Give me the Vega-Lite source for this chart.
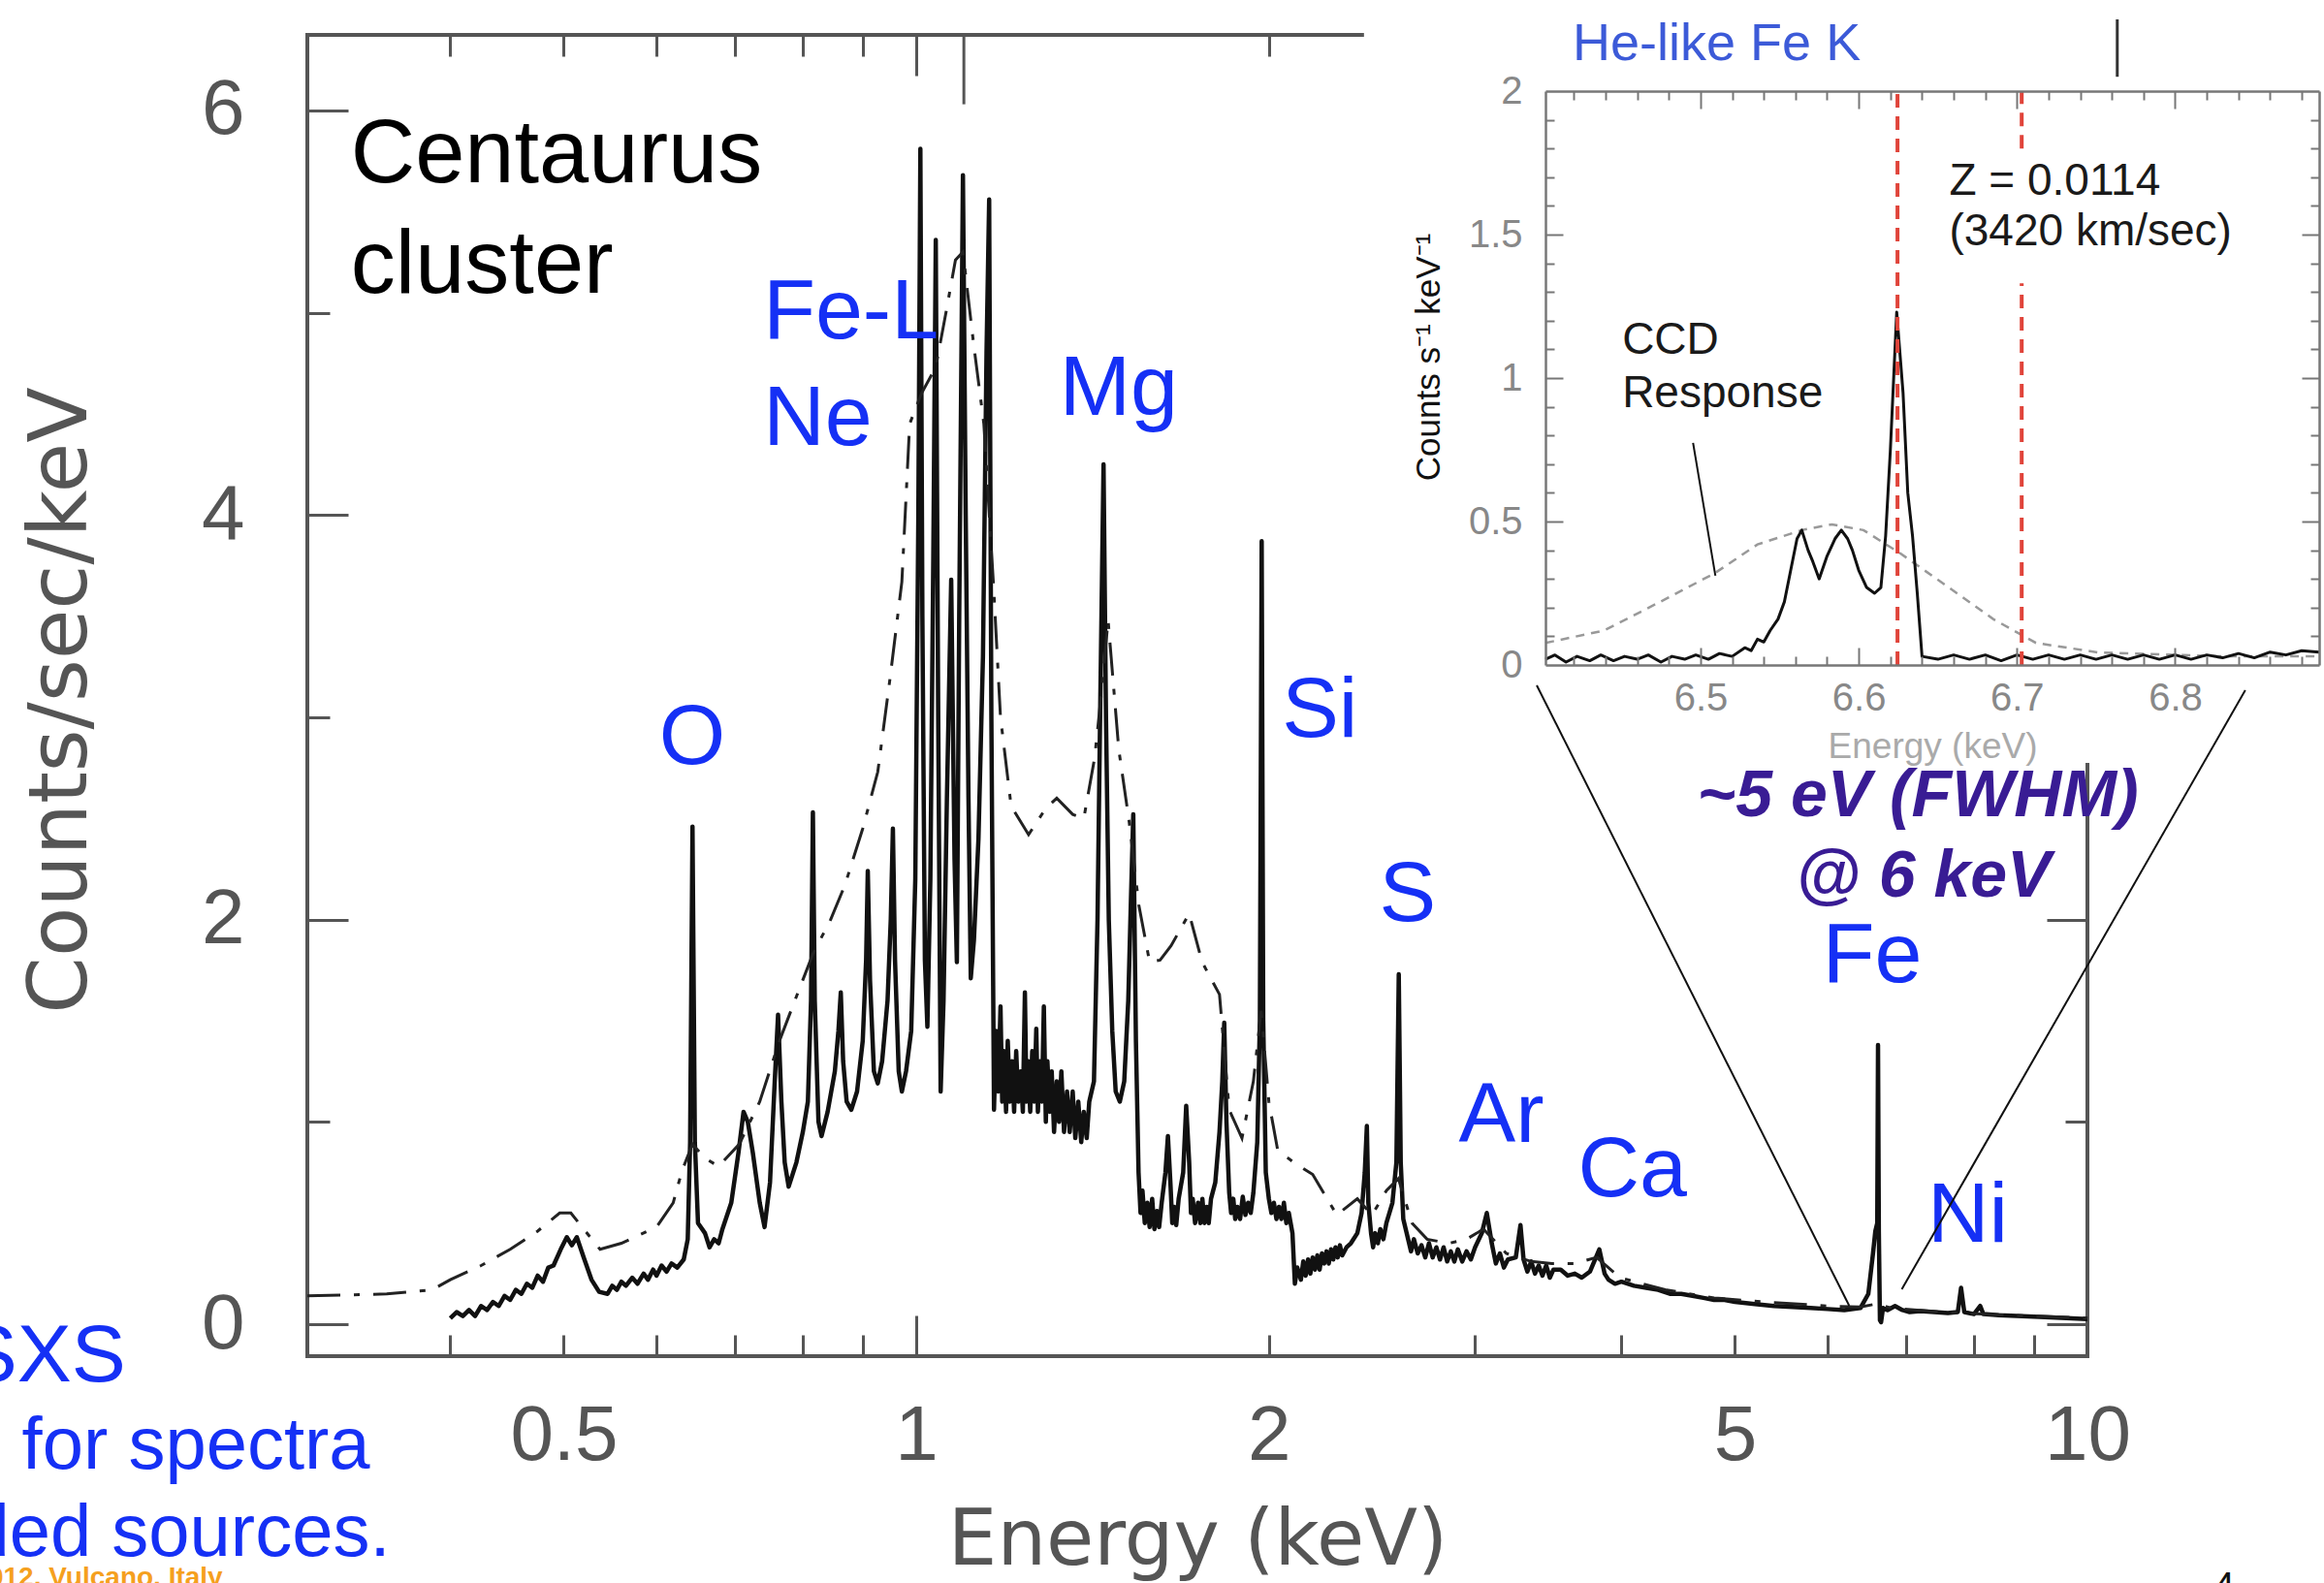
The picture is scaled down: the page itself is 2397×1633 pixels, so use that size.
{
  "$schema": "https://vega.github.io/schema/vega-lite/v6.json",
  "width": 1836,
  "height": 1363,
  "autosize": {"type": "none"},
  "padding": {"left": 317, "top": 36, "right": 244, "bottom": 234},
  "background": "white",
  "config": {
    "view": {"stroke": "#555", "strokeWidth": 4},
    "axis": {"grid": false, "labelFont": "Liberation Sans", "titleFont": "Liberation Sans", "titleFontWeight": "normal", "labelFlush": false, "labelOverlap": false}
  },
  "datasets": {
    "main_solid": [
      {"E":0.400,"C":0.03},{"E":0.405,"C":0.06},{"E":0.410,"C":0.04},{"E":0.415,"C":0.07},{"E":0.420,"C":0.04},{"E":0.425,"C":0.09},{"E":0.430,"C":0.07},{"E":0.435,"C":0.11},{"E":0.440,"C":0.09},{"E":0.445,"C":0.14},{"E":0.450,"C":0.12},{"E":0.455,"C":0.17},{"E":0.460,"C":0.15},{"E":0.465,"C":0.20},{"E":0.470,"C":0.18},{"E":0.475,"C":0.24},{"E":0.480,"C":0.21},{"E":0.485,"C":0.28},{"E":0.490,"C":0.29},{"E":0.497,"C":0.37},{"E":0.503,"C":0.43},{"E":0.508,"C":0.39},{"E":0.513,"C":0.43},{"E":0.520,"C":0.33},{"E":0.528,"C":0.22},{"E":0.536,"C":0.16},{"E":0.545,"C":0.15},{"E":0.550,"C":0.19},{"E":0.555,"C":0.17},{"E":0.560,"C":0.21},{"E":0.565,"C":0.19},{"E":0.572,"C":0.23},{"E":0.578,"C":0.20},{"E":0.585,"C":0.25},{"E":0.590,"C":0.22},{"E":0.596,"C":0.27},{"E":0.600,"C":0.24},{"E":0.606,"C":0.29},{"E":0.612,"C":0.26},{"E":0.618,"C":0.30},{"E":0.625,"C":0.28},{"E":0.633,"C":0.32},{"E":0.638,"C":0.42},{"E":0.641,"C":0.9},{"E":0.644,"C":2.46},{"E":0.647,"C":0.9},{"E":0.651,"C":0.50},{"E":0.660,"C":0.45},{"E":0.666,"C":0.38},{"E":0.672,"C":0.42},{"E":0.678,"C":0.40},{"E":0.683,"C":0.47},{"E":0.695,"C":0.60},{"E":0.705,"C":0.85},{"E":0.712,"C":1.05},{"E":0.718,"C":1.00},{"E":0.725,"C":0.85},{"E":0.735,"C":0.60},{"E":0.742,"C":0.48},{"E":0.750,"C":0.70},{"E":0.757,"C":1.20},{"E":0.762,"C":1.53},{"E":0.767,"C":1.10},{"E":0.772,"C":0.80},{"E":0.778,"C":0.68},{"E":0.790,"C":0.80},{"E":0.800,"C":0.95},{"E":0.808,"C":1.10},{"E":0.813,"C":1.60},{"E":0.816,"C":2.53},{"E":0.819,"C":1.60},{"E":0.825,"C":1.00},{"E":0.830,"C":0.93},{"E":0.840,"C":1.05},{"E":0.852,"C":1.25},{"E":0.858,"C":1.45},{"E":0.862,"C":1.64},{"E":0.866,"C":1.30},{"E":0.872,"C":1.10},{"E":0.880,"C":1.06},{"E":0.890,"C":1.15},{"E":0.900,"C":1.40},{"E":0.906,"C":1.80},{"E":0.909,"C":2.24},{"E":0.913,"C":1.70},{"E":0.920,"C":1.25},{"E":0.927,"C":1.19},{"E":0.935,"C":1.30},{"E":0.945,"C":1.60},{"E":0.951,"C":2.0},{"E":0.955,"C":2.45},{"E":0.959,"C":1.80},{"E":0.966,"C":1.25},{"E":0.972,"C":1.15},{"E":0.980,"C":1.25},{"E":0.990,"C":1.45},{"E":0.998,"C":2.2},{"E":1.004,"C":4.0},{"E":1.008,"C":5.81},{"E":1.012,"C":3.5},{"E":1.017,"C":1.80},{"E":1.022,"C":1.47},{"E":1.028,"C":2.2},{"E":1.034,"C":3.8},{"E":1.039,"C":5.36},{"E":1.044,"C":3.0},{"E":1.049,"C":1.15},{"E":1.055,"C":1.6},{"E":1.062,"C":2.6},{"E":1.071,"C":3.68},{"E":1.078,"C":2.3},{"E":1.083,"C":1.79},{"E":1.088,"C":3.5},{"E":1.096,"C":5.68},{"E":1.102,"C":4.0},{"E":1.108,"C":2.6},{"E":1.113,"C":1.71},{"E":1.120,"C":1.9},{"E":1.130,"C":2.4},{"E":1.140,"C":3.3},{"E":1.148,"C":4.8},{"E":1.154,"C":5.56},{"E":1.159,"C":3.0},{"E":1.165,"C":1.06},{"E":1.170,"C":1.45},{"E":1.175,"C":1.15},{"E":1.180,"C":1.57},{"E":1.184,"C":1.10},{"E":1.188,"C":1.35},{"E":1.193,"C":1.05},{"E":1.197,"C":1.40},{"E":1.202,"C":1.10},{"E":1.207,"C":1.30},{"E":1.212,"C":1.05},{"E":1.217,"C":1.35},{"E":1.222,"C":1.10},{"E":1.228,"C":1.25},{"E":1.233,"C":1.05},{"E":1.238,"C":1.64},{"E":1.242,"C":1.10},{"E":1.246,"C":1.30},{"E":1.251,"C":1.05},{"E":1.256,"C":1.35},{"E":1.261,"C":1.10},{"E":1.266,"C":1.46},{"E":1.270,"C":1.05},{"E":1.275,"C":1.30},{"E":1.280,"C":1.10},{"E":1.285,"C":1.57},{"E":1.290,"C":1.00},{"E":1.294,"C":1.30},{"E":1.300,"C":1.05},{"E":1.305,"C":1.25},{"E":1.311,"C":0.95},{"E":1.318,"C":1.20},{"E":1.324,"C":1.00},{"E":1.330,"C":1.25},{"E":1.337,"C":0.95},{"E":1.345,"C":1.15},{"E":1.352,"C":0.95},{"E":1.360,"C":1.15},{"E":1.367,"C":0.92},{"E":1.375,"C":1.10},{"E":1.383,"C":0.90},{"E":1.390,"C":1.05},{"E":1.398,"C":0.92},{"E":1.405,"C":1.10},{"E":1.418,"C":1.20},{"E":1.428,"C":2.0},{"E":1.436,"C":3.1},{"E":1.445,"C":4.25},{"E":1.452,"C":3.0},{"E":1.460,"C":2.0},{"E":1.470,"C":1.45},{"E":1.480,"C":1.15},{"E":1.492,"C":1.10},{"E":1.505,"C":1.20},{"E":1.517,"C":1.60},{"E":1.525,"C":2.1},{"E":1.532,"C":2.52},{"E":1.540,"C":1.40},{"E":1.548,"C":0.75},{"E":1.554,"C":0.55},{"E":1.560,"C":0.66},{"E":1.567,"C":0.50},{"E":1.575,"C":0.60},{"E":1.582,"C":0.48},{"E":1.590,"C":0.62},{"E":1.597,"C":0.47},{"E":1.605,"C":0.56},{"E":1.612,"C":0.48},{"E":1.620,"C":0.60},{"E":1.632,"C":0.75},{"E":1.640,"C":0.93},{"E":1.648,"C":0.70},{"E":1.654,"C":0.50},{"E":1.660,"C":0.58},{"E":1.667,"C":0.49},{"E":1.675,"C":0.62},{"E":1.690,"C":0.75},{"E":1.700,"C":1.08},{"E":1.710,"C":0.80},{"E":1.716,"C":0.55},{"E":1.722,"C":0.62},{"E":1.730,"C":0.50},{"E":1.740,"C":0.60},{"E":1.748,"C":0.50},{"E":1.755,"C":0.62},{"E":1.762,"C":0.50},{"E":1.770,"C":0.58},{"E":1.777,"C":0.50},{"E":1.785,"C":0.62},{"E":1.800,"C":0.70},{"E":1.815,"C":0.95},{"E":1.825,"C":1.20},{"E":1.832,"C":1.49},{"E":1.840,"C":1.00},{"E":1.850,"C":0.65},{"E":1.857,"C":0.55},{"E":1.865,"C":0.62},{"E":1.872,"C":0.52},{"E":1.880,"C":0.58},{"E":1.890,"C":0.52},{"E":1.900,"C":0.63},{"E":1.910,"C":0.54},{"E":1.920,"C":0.60},{"E":1.930,"C":0.55},{"E":1.940,"C":0.65},{"E":1.955,"C":0.90},{"E":1.965,"C":1.5},{"E":1.972,"C":3.87},{"E":1.978,"C":1.5},{"E":1.988,"C":0.75},{"E":2.000,"C":0.62},{"E":2.010,"C":0.55},{"E":2.020,"C":0.60},{"E":2.030,"C":0.52},{"E":2.040,"C":0.58},{"E":2.050,"C":0.52},{"E":2.060,"C":0.60},{"E":2.070,"C":0.50},{"E":2.080,"C":0.55},{"E":2.095,"C":0.45},{"E":2.105,"C":0.20},{"E":2.115,"C":0.28},{"E":2.130,"C":0.22},{"E":2.140,"C":0.31},{"E":2.150,"C":0.24},{"E":2.160,"C":0.32},{"E":2.170,"C":0.25},{"E":2.180,"C":0.33},{"E":2.190,"C":0.27},{"E":2.200,"C":0.34},{"E":2.210,"C":0.27},{"E":2.220,"C":0.35},{"E":2.230,"C":0.30},{"E":2.240,"C":0.36},{"E":2.250,"C":0.30},{"E":2.260,"C":0.37},{"E":2.270,"C":0.32},{"E":2.280,"C":0.38},{"E":2.290,"C":0.33},{"E":2.300,"C":0.39},{"E":2.310,"C":0.34},{"E":2.330,"C":0.38},{"E":2.350,"C":0.40},{"E":2.380,"C":0.45},{"E":2.400,"C":0.55},{"E":2.415,"C":0.75},{"E":2.425,"C":0.98},{"E":2.432,"C":0.60},{"E":2.445,"C":0.45},{"E":2.455,"C":0.38},{"E":2.465,"C":0.45},{"E":2.478,"C":0.40},{"E":2.490,"C":0.47},{"E":2.505,"C":0.42},{"E":2.520,"C":0.50},{"E":2.550,"C":0.60},{"E":2.570,"C":0.80},{"E":2.582,"C":1.73},{"E":2.592,"C":0.80},{"E":2.605,"C":0.52},{"E":2.630,"C":0.42},{"E":2.645,"C":0.36},{"E":2.660,"C":0.42},{"E":2.680,"C":0.35},{"E":2.700,"C":0.39},{"E":2.720,"C":0.33},{"E":2.740,"C":0.40},{"E":2.760,"C":0.33},{"E":2.780,"C":0.38},{"E":2.800,"C":0.32},{"E":2.820,"C":0.38},{"E":2.840,"C":0.31},{"E":2.860,"C":0.36},{"E":2.880,"C":0.31},{"E":2.900,"C":0.37},{"E":2.925,"C":0.31},{"E":2.950,"C":0.36},{"E":2.975,"C":0.32},{"E":3.000,"C":0.38},{"E":3.040,"C":0.45},{"E":3.070,"C":0.55},{"E":3.100,"C":0.40},{"E":3.125,"C":0.30},{"E":3.150,"C":0.35},{"E":3.175,"C":0.28},{"E":3.200,"C":0.32},{"E":3.250,"C":0.33},{"E":3.280,"C":0.49},{"E":3.300,"C":0.32},{"E":3.325,"C":0.26},{"E":3.350,"C":0.31},{"E":3.375,"C":0.25},{"E":3.400,"C":0.29},{"E":3.425,"C":0.24},{"E":3.450,"C":0.29},{"E":3.475,"C":0.23},{"E":3.500,"C":0.27},{"E":3.550,"C":0.27},{"E":3.600,"C":0.24},{"E":3.650,"C":0.25},{"E":3.700,"C":0.23},{"E":3.760,"C":0.26},{"E":3.830,"C":0.37},{"E":3.870,"C":0.25},{"E":3.900,"C":0.22},{"E":3.950,"C":0.20},{"E":4.000,"C":0.21},{"E":4.100,"C":0.19},{"E":4.200,"C":0.18},{"E":4.300,"C":0.17},{"E":4.400,"C":0.15},{"E":4.500,"C":0.15},{"E":4.600,"C":0.14},{"E":4.700,"C":0.13},{"E":4.800,"C":0.12},{"E":4.900,"C":0.12},{"E":5.000,"C":0.11},{"E":5.200,"C":0.10},{"E":5.400,"C":0.09},{"E":5.600,"C":0.085},{"E":5.800,"C":0.08},{"E":6.000,"C":0.075},{"E":6.200,"C":0.07},{"E":6.400,"C":0.08},{"E":6.500,"C":0.15},{"E":6.560,"C":0.35},{"E":6.590,"C":0.46},{"E":6.615,"C":0.50},{"E":6.625,"C":1.38},{"E":6.636,"C":0.45},{"E":6.650,"C":0.02},{"E":6.665,"C":0.01},{"E":6.690,"C":0.08},{"E":6.750,"C":0.07},{"E":6.850,"C":0.09},{"E":6.950,"C":0.07},{"E":7.050,"C":0.06},{"E":7.200,"C":0.065},{"E":7.400,"C":0.06},{"E":7.600,"C":0.055},{"E":7.750,"C":0.06},{"E":7.800,"C":0.18},{"E":7.850,"C":0.06},{"E":8.000,"C":0.05},{"E":8.100,"C":0.09},{"E":8.150,"C":0.05},{"E":8.400,"C":0.045},{"E":8.800,"C":0.04},{"E":9.200,"C":0.035},{"E":9.600,"C":0.03},{"E":10.0,"C":0.025}
    ],
    "main_ccd": [
      {"E":0.302,"C":0.14},{"E":0.330,"C":0.145},{"E":0.353,"C":0.15},{"E":0.386,"C":0.17},{"E":0.400,"C":0.22},{"E":0.425,"C":0.29},{"E":0.450,"C":0.37},{"E":0.475,"C":0.46},{"E":0.496,"C":0.55},{"E":0.507,"C":0.55},{"E":0.520,"C":0.47},{"E":0.537,"C":0.37},{"E":0.560,"C":0.40},{"E":0.600,"C":0.48},{"E":0.620,"C":0.60},{"E":0.631,"C":0.76},{"E":0.644,"C":0.89},{"E":0.660,"C":0.82},{"E":0.678,"C":0.78},{"E":0.706,"C":0.89},{"E":0.735,"C":1.10},{"E":0.764,"C":1.40},{"E":0.790,"C":1.62},{"E":0.816,"C":1.83},{"E":0.845,"C":2.0},{"E":0.869,"C":2.17},{"E":0.900,"C":2.45},{"E":0.927,"C":2.73},{"E":0.950,"C":3.2},{"E":0.972,"C":3.67},{"E":0.987,"C":4.45},{"E":1.010,"C":4.6},{"E":1.039,"C":4.73},{"E":1.060,"C":5.0},{"E":1.080,"C":5.26},{"E":1.096,"C":5.30},{"E":1.119,"C":4.85},{"E":1.142,"C":4.45},{"E":1.164,"C":3.65},{"E":1.180,"C":3.00},{"E":1.205,"C":2.56},{"E":1.247,"C":2.42},{"E":1.290,"C":2.55},{"E":1.318,"C":2.60},{"E":1.360,"C":2.52},{"E":1.390,"C":2.50},{"E":1.420,"C":2.80},{"E":1.439,"C":3.12},{"E":1.458,"C":3.48},{"E":1.489,"C":2.84},{"E":1.520,"C":2.48},{"E":1.549,"C":2.07},{"E":1.582,"C":1.79},{"E":1.615,"C":1.80},{"E":1.650,"C":1.87},{"E":1.710,"C":2.03},{"E":1.754,"C":1.79},{"E":1.815,"C":1.63},{"E":1.850,"C":1.06},{"E":1.897,"C":0.92},{"E":1.940,"C":1.20},{"E":1.970,"C":1.55},{"E":2.000,"C":1.10},{"E":2.035,"C":0.86},{"E":2.100,"C":0.80},{"E":2.180,"C":0.74},{"E":2.286,"C":0.54},{"E":2.380,"C":0.62},{"E":2.450,"C":0.54},{"E":2.520,"C":0.66},{"E":2.580,"C":0.72},{"E":2.650,"C":0.50},{"E":2.730,"C":0.42},{"E":2.850,"C":0.40},{"E":2.950,"C":0.42},{"E":3.050,"C":0.47},{"E":3.190,"C":0.35},{"E":3.350,"C":0.31},{"E":3.490,"C":0.30},{"E":3.650,"C":0.30},{"E":3.810,"C":0.33},{"E":3.990,"C":0.23},{"E":4.360,"C":0.17},{"E":4.800,"C":0.13},{"E":5.300,"C":0.11},{"E":6.000,"C":0.09},{"E":6.400,"C":0.085},{"E":6.600,"C":0.10},{"E":6.800,"C":0.08},{"E":7.500,"C":0.06},{"E":8.500,"C":0.045},{"E":10.0,"C":0.03}
    ],
    "main_art": [{"E":1.098,"C":6.373,"C2":6.03}],
    "lab_black": [{"E":0.3289,"C":5.645,"t":"Centaurus"},{"E":0.3289,"C":5.098,"t":"cluster"}],
    "lab_blue": [
      {"E":0.740,"C":4.873,"t":"Fe-L"},{"E":0.740,"C":4.346,"t":"Ne"},{"E":1.325,"C":4.494,"t":"Mg"},{"E":0.603,"C":2.770,"t":"O"},{"E":2.052,"C":2.904,"t":"Si"},{"E":2.485,"C":1.993,"t":"S"},{"E":2.905,"C":0.901,"t":"Ar"},{"E":3.672,"C":0.632,"t":"Ca"},{"E":5.94,"C":1.691,"t":"Fe"},{"E":7.30,"C":0.407,"t":"Ni"}
    ],
    "lab_fwhm": [{"E":7.165,"C":2.511,"t":"~5 eV (FWHM)"},{"E":7.246,"C":2.113,"t":"@ 6 keV"}],
    "slide_big": [{"E":0.2114,"C":-0.283,"t":"SXS"}],
    "slide_blue": [{"E":0.3416,"C":-0.714,"t":"ideal for spectra"},{"E":0.3555,"C":-1.145,"t":"extended sources."}],
    "slide_orange": [{"E":0.2557,"C":-1.294,"t":"2012, Vulcano, Italy"}],
    "slide_page": [{"E":13.08,"C":-1.36,"t":"4"}],
    "inset_box": [{"E":6.2873,"E2":6.95,"C":-0.341,"C2":2.4}],
    "inset_ccd": [
      {"E":6.402,"C":0.077},{"E":6.439,"C":0.12},{"E":6.478,"C":0.23},{"E":6.509,"C":0.32},{"E":6.536,"C":0.42},{"E":6.564,"C":0.47},{"E":6.583,"C":0.49},{"E":6.603,"C":0.47},{"E":6.626,"C":0.39},{"E":6.657,"C":0.27},{"E":6.685,"C":0.16},{"E":6.712,"C":0.077},{"E":6.751,"C":0.044},{"E":6.829,"C":0.03},{"E":6.891,"C":0.03}
    ],
    "inset_solid": [
      {"E":6.402,"C":0.02},{"E":6.408,"C":0.035},{"E":6.415,"C":0.01},{"E":6.422,"C":0.03},{"E":6.430,"C":0.015},{"E":6.437,"C":0.035},{"E":6.445,"C":0.015},{"E":6.452,"C":0.03},{"E":6.460,"C":0.02},{"E":6.467,"C":0.035},{"E":6.475,"C":0.01},{"E":6.482,"C":0.03},{"E":6.490,"C":0.02},{"E":6.497,"C":0.035},{"E":6.505,"C":0.02},{"E":6.512,"C":0.04},{"E":6.520,"C":0.03},{"E":6.528,"C":0.06},{"E":6.532,"C":0.05},{"E":6.536,"C":0.09},{"E":6.540,"C":0.08},{"E":6.544,"C":0.12},{"E":6.549,"C":0.16},{"E":6.553,"C":0.22},{"E":6.557,"C":0.33},{"E":6.561,"C":0.44},{"E":6.564,"C":0.47},{"E":6.568,"C":0.40},{"E":6.571,"C":0.36},{"E":6.575,"C":0.30},{"E":6.580,"C":0.38},{"E":6.585,"C":0.44},{"E":6.589,"C":0.47},{"E":6.593,"C":0.44},{"E":6.596,"C":0.40},{"E":6.600,"C":0.33},{"E":6.605,"C":0.27},{"E":6.610,"C":0.25},{"E":6.614,"C":0.27},{"E":6.617,"C":0.45},{"E":6.620,"C":0.75},{"E":6.624,"C":1.23},{"E":6.628,"C":0.95},{"E":6.631,"C":0.60},{"E":6.634,"C":0.45},{"E":6.637,"C":0.25},{"E":6.640,"C":0.03},{"E":6.650,"C":0.02},{"E":6.660,"C":0.035},{"E":6.670,"C":0.02},{"E":6.680,"C":0.035},{"E":6.690,"C":0.015},{"E":6.700,"C":0.035},{"E":6.710,"C":0.02},{"E":6.720,"C":0.035},{"E":6.730,"C":0.02},{"E":6.740,"C":0.035},{"E":6.750,"C":0.02},{"E":6.760,"C":0.035},{"E":6.770,"C":0.02},{"E":6.780,"C":0.035},{"E":6.790,"C":0.02},{"E":6.800,"C":0.035},{"E":6.810,"C":0.02},{"E":6.820,"C":0.035},{"E":6.830,"C":0.025},{"E":6.840,"C":0.04},{"E":6.850,"C":0.025},{"E":6.860,"C":0.045},{"E":6.870,"C":0.035},{"E":6.880,"C":0.05},{"E":6.891,"C":0.045}
    ],
    "inset_red": [{"E":6.6245,"C":0,"C2":2.0},{"E":6.703,"C":0,"C2":1.33},{"E":6.703,"C":1.80,"C2":2.0}],
    "inset_text": [{"E":6.6572,"C":1.64,"t":"Z = 0.0114"},{"E":6.6572,"C":1.463,"t":"(3420 km/sec)"},{"E":6.4505,"C":1.084,"t":"CCD"},{"E":6.4505,"C":0.899,"t":"Response"}],
    "inset_title": [{"E":6.4192,"C":2.108,"t":"He-like Fe K"}],
    "inset_lines": [
      {"E":6.3965,"C":-0.071,"E2":6.594,"C2":-2.233},
      {"E":6.8443,"C":-0.088,"E2":6.6272,"C2":-2.176},
      {"E":6.4953,"C":0.774,"E2":6.5094,"C2":0.311}
    ],
    "inset_art": [{"E":6.7634,"C":2.05,"C2":2.25}]
  },
  "resolve": {"scale": {"x": "independent", "y": "independent"}},
  "layer": [
    {
      "resolve": {"axis": {"x": "independent", "y": "independent"}},
      "layer": [
        {
          "data": {"name": "main_solid"},
          "mark": {"type": "line", "color": "#111", "strokeWidth": 4.5, "strokeJoin": "round"},
          "encoding": {
            "x": {"field": "E", "type": "quantitative", "scale": {"type": "log", "domain": [0.302, 10], "nice": false},
              "axis": {"orient": "bottom", "values": [0.5, 1, 2, 5, 10], "format": "~g", "labels": true, "ticks": false, "domain": false, "labelFont": "Liberation Sans", "labelFontSize": 80, "labelColor": "#555", "labelPadding": 106, "labelBaseline": "alphabetic", "title": "Energy (keV)", "titleFont": "DejaVu Sans", "titleFontSize": 80, "titleColor": "#555", "titleY": 214, "titleBaseline": "alphabetic"}},
            "y": {"field": "C", "type": "quantitative", "scale": {"domain": [-0.158, 6.373], "nice": false, "zero": false},
              "axis": {"orient": "left", "values": [0, 2, 4, 6], "format": "~g", "labels": true, "ticks": false, "domain": false, "labelFont": "Liberation Sans", "labelFontSize": 80, "labelColor": "#555", "labelPadding": 65, "title": "Counts/sec/keV", "titleFont": "DejaVu Sans", "titleFontSize": 84, "titleColor": "#555", "titleX": -254, "titleY": 686, "titleAngle": 270, "titleBaseline": "middle"}}
          }
        },
        {
          "data": {"name": "main_ccd"},
          "mark": {"type": "line", "color": "#222", "strokeWidth": 3, "strokeDash": [34, 14, 6, 14]},
          "encoding": {
            "x": {"field": "E", "type": "quantitative", "scale": {"type": "log", "domain": [0.302, 10], "nice": false},
              "axis": {"orient": "bottom", "values": [0.4, 0.5, 0.6, 0.7, 0.8, 0.9, 2, 3, 4, 5, 6, 7, 8, 9], "labels": false, "ticks": true, "tickSize": -22, "tickWidth": 3, "tickColor": "#555", "domain": false, "title": null}},
            "y": {"field": "C", "type": "quantitative", "scale": {"domain": [-0.158, 6.373], "nice": false, "zero": false},
              "axis": {"orient": "left", "values": [1, 3, 5], "labels": false, "ticks": true, "tickSize": -23, "tickWidth": 3, "tickColor": "#555", "domain": false, "title": null}}
          }
        },
        {
          "data": {"name": "main_art"},
          "mark": {"type": "rule", "color": "#555", "strokeWidth": 3},
          "encoding": {
            "x": {"field": "E", "type": "quantitative", "scale": {"type": "log", "domain": [0.302, 10], "nice": false},
              "axis": {"orient": "bottom", "values": [1], "labels": false, "ticks": true, "tickSize": -42, "tickWidth": 3, "tickColor": "#555", "domain": false, "title": null}},
            "y": {"field": "C", "type": "quantitative", "scale": {"domain": [-0.158, 6.373], "nice": false, "zero": false},
              "axis": {"orient": "left", "values": [0, 2, 4, 6], "labels": false, "ticks": true, "tickSize": -42, "tickWidth": 3, "tickColor": "#555", "domain": false, "title": null}},
            "y2": {"field": "C2"}
          }
        },
        {
          "data": {"name": "lab_black"},
          "mark": {"type": "text", "align": "left", "baseline": "alphabetic", "font": "Liberation Sans", "fontSize": 92, "color": "#000"},
          "encoding": {
            "x": {"field": "E", "type": "quantitative", "scale": {"type": "log", "domain": [0.302, 10], "nice": false},
              "axis": {"orient": "top", "values": [0.4, 0.5, 0.6, 0.7, 0.8, 0.9, 2, 3, 4, 5, 6, 7, 8, 9], "labels": false, "ticks": true, "tickSize": -22, "tickWidth": 3, "tickColor": "#555", "domain": false, "title": null}},
            "y": {"field": "C", "type": "quantitative", "scale": {"domain": [-0.158, 6.373], "nice": false, "zero": false},
              "axis": {"orient": "right", "values": [1, 3, 5], "labels": false, "ticks": true, "tickSize": -23, "tickWidth": 3, "tickColor": "#555", "domain": false, "title": null}},
            "text": {"field": "t"}
          }
        },
        {
          "data": {"name": "lab_blue"},
          "mark": {"type": "text", "align": "left", "baseline": "alphabetic", "font": "Liberation Sans", "fontSize": 88, "color": "#1530f5"},
          "encoding": {
            "x": {"field": "E", "type": "quantitative", "scale": {"type": "log", "domain": [0.302, 10], "nice": false},
              "axis": {"orient": "top", "values": [1], "labels": false, "ticks": true, "tickSize": -42, "tickWidth": 3, "tickColor": "#555", "domain": false, "title": null}},
            "y": {"field": "C", "type": "quantitative", "scale": {"domain": [-0.158, 6.373], "nice": false, "zero": false},
              "axis": {"orient": "right", "values": [0, 2, 4, 6], "labels": false, "ticks": true, "tickSize": -42, "tickWidth": 3, "tickColor": "#555", "domain": false, "title": null}},
            "text": {"field": "t"}
          }
        },
        {
          "data": {"name": "lab_fwhm"},
          "mark": {"type": "text", "align": "center", "baseline": "alphabetic", "font": "Liberation Sans", "fontSize": 68, "fontWeight": "bold", "fontStyle": "italic", "color": "#391c94"},
          "encoding": {
            "x": {"field": "E", "type": "quantitative", "scale": {"type": "log", "domain": [0.302, 10], "nice": false}, "axis": null},
            "y": {"field": "C", "type": "quantitative", "scale": {"domain": [-0.158, 6.373], "nice": false, "zero": false}, "axis": null},
            "text": {"field": "t"}
          }
        },
        {
          "data": {"name": "slide_big"},
          "mark": {"type": "text", "align": "right", "baseline": "alphabetic", "font": "Liberation Sans", "fontSize": 84, "color": "#1530f5"},
          "encoding": {
            "x": {"field": "E", "type": "quantitative", "scale": {"type": "log", "domain": [0.302, 10], "nice": false}, "axis": null},
            "y": {"field": "C", "type": "quantitative", "scale": {"domain": [-0.158, 6.373], "nice": false, "zero": false}, "axis": null},
            "text": {"field": "t"}
          }
        },
        {
          "data": {"name": "slide_blue"},
          "mark": {"type": "text", "align": "right", "baseline": "alphabetic", "font": "Liberation Sans", "fontSize": 76, "color": "#1530f5"},
          "encoding": {
            "x": {"field": "E", "type": "quantitative", "scale": {"type": "log", "domain": [0.302, 10], "nice": false}, "axis": null},
            "y": {"field": "C", "type": "quantitative", "scale": {"domain": [-0.158, 6.373], "nice": false, "zero": false}, "axis": null},
            "text": {"field": "t"}
          }
        },
        {
          "data": {"name": "slide_orange"},
          "mark": {"type": "text", "align": "right", "baseline": "alphabetic", "font": "Liberation Sans", "fontSize": 28, "fontWeight": "bold", "color": "#f5a01e"},
          "encoding": {
            "x": {"field": "E", "type": "quantitative", "scale": {"type": "log", "domain": [0.302, 10], "nice": false}, "axis": null},
            "y": {"field": "C", "type": "quantitative", "scale": {"domain": [-0.158, 6.373], "nice": false, "zero": false}, "axis": null},
            "text": {"field": "t"}
          }
        },
        {
          "data": {"name": "slide_page"},
          "mark": {"type": "text", "align": "center", "baseline": "alphabetic", "font": "Liberation Sans", "fontSize": 40, "color": "#111"},
          "encoding": {
            "x": {"field": "E", "type": "quantitative", "scale": {"type": "log", "domain": [0.302, 10], "nice": false}, "axis": null},
            "y": {"field": "C", "type": "quantitative", "scale": {"domain": [-0.158, 6.373], "nice": false, "zero": false}, "axis": null},
            "text": {"field": "t"}
          }
        }
      ]
    },
    {
      "resolve": {"axis": {"x": "independent", "y": "independent"}},
      "layer": [
        {
          "data": {"name": "inset_box"},
          "mark": {"type": "rect", "color": "white", "opacity": 1},
          "encoding": {
            "x": {"field": "E", "type": "quantitative", "scale": {"domain": [6.402, 6.891], "range": [1277, 2075], "nice": false, "zero": false},
              "axis": {"orient": "bottom", "offset": -713, "zindex": 1, "values": [6.5, 6.6, 6.7, 6.8, 6.9], "format": "~g", "labels": true, "ticks": false, "domain": false, "labelFont": "Liberation Sans", "labelFontSize": 40, "labelColor": "#888", "labelPadding": 34, "labelBaseline": "middle", "title": "Energy (keV)", "titleFont": "Liberation Sans", "titleFontSize": 37, "titleColor": "#aaa", "titleY": 84, "titleBaseline": "middle"}},
            "x2": {"field": "E2"},
            "y": {"field": "C", "type": "quantitative", "scale": {"domain": [0, 2], "range": [650, 58], "nice": false, "zero": false},
              "axis": {"orient": "left", "offset": -1277, "zindex": 1, "values": [0, 0.5, 1, 1.5, 2], "format": "~g", "labels": true, "ticks": false, "domain": false, "labelFont": "Liberation Sans", "labelFontSize": 40, "labelColor": "#888", "labelPadding": 24, "title": "Counts s⁻¹ keV⁻¹", "titleFont": "Liberation Sans", "titleFontSize": 35, "titleColor": "#111", "titleX": -121, "titleY": 332, "titleAngle": 270, "titleBaseline": "middle"}},
            "y2": {"field": "C2"}
          }
        },
        {
          "data": {"name": "inset_ccd"},
          "mark": {"type": "line", "color": "#999", "strokeWidth": 2.5, "strokeDash": [9, 7]},
          "encoding": {
            "x": {"field": "E", "type": "quantitative", "scale": {"domain": [6.402, 6.891], "range": [1277, 2075], "nice": false, "zero": false},
              "axis": {"orient": "bottom", "offset": -713, "zindex": 1, "values": [6.42, 6.44, 6.46, 6.48, 6.52, 6.54, 6.56, 6.58, 6.62, 6.64, 6.66, 6.68, 6.72, 6.74, 6.76, 6.78, 6.82, 6.84, 6.86, 6.88], "labels": false, "ticks": true, "tickSize": -9, "tickWidth": 2, "tickColor": "#777", "domain": true, "domainColor": "#777", "domainWidth": 2.5, "title": null}},
            "y": {"field": "C", "type": "quantitative", "scale": {"domain": [0, 2], "range": [650, 58], "nice": false, "zero": false},
              "axis": {"orient": "left", "offset": -1277, "zindex": 1, "values": [0.1, 0.2, 0.3, 0.4, 0.6, 0.7, 0.8, 0.9, 1.1, 1.2, 1.3, 1.4, 1.6, 1.7, 1.8, 1.9], "labels": false, "ticks": true, "tickSize": -9, "tickWidth": 2, "tickColor": "#777", "domain": true, "domainColor": "#777", "domainWidth": 2.5, "title": null}}
          }
        },
        {
          "data": {"name": "inset_solid"},
          "mark": {"type": "line", "color": "#111", "strokeWidth": 3, "strokeJoin": "round"},
          "encoding": {
            "x": {"field": "E", "type": "quantitative", "scale": {"domain": [6.402, 6.891], "range": [1277, 2075], "nice": false, "zero": false},
              "axis": {"orient": "top", "offset": -58, "zindex": 1, "values": [6.42, 6.44, 6.46, 6.48, 6.52, 6.54, 6.56, 6.58, 6.62, 6.64, 6.66, 6.68, 6.72, 6.74, 6.76, 6.78, 6.82, 6.84, 6.86, 6.88], "labels": false, "ticks": true, "tickSize": -9, "tickWidth": 2, "tickColor": "#777", "domain": true, "domainColor": "#777", "domainWidth": 2.5, "title": null}},
            "y": {"field": "C", "type": "quantitative", "scale": {"domain": [0, 2], "range": [650, 58], "nice": false, "zero": false},
              "axis": {"orient": "right", "offset": 239, "zindex": 1, "values": [0.1, 0.2, 0.3, 0.4, 0.6, 0.7, 0.8, 0.9, 1.1, 1.2, 1.3, 1.4, 1.6, 1.7, 1.8, 1.9], "labels": false, "ticks": true, "tickSize": -9, "tickWidth": 2, "tickColor": "#777", "domain": true, "domainColor": "#777", "domainWidth": 2.5, "title": null}}
          }
        },
        {
          "data": {"name": "inset_red"},
          "mark": {"type": "rule", "color": "#e0443a", "strokeWidth": 4, "strokeDash": [14, 9]},
          "encoding": {
            "x": {"field": "E", "type": "quantitative", "scale": {"domain": [6.402, 6.891], "range": [1277, 2075], "nice": false, "zero": false},
              "axis": {"orient": "bottom", "offset": -713, "zindex": 1, "values": [6.5, 6.6, 6.7, 6.8], "labels": false, "ticks": true, "tickSize": -18, "tickWidth": 2, "tickColor": "#777", "domain": false, "title": null}},
            "y": {"field": "C", "type": "quantitative", "scale": {"domain": [0, 2], "range": [650, 58], "nice": false, "zero": false},
              "axis": {"orient": "left", "offset": -1277, "zindex": 1, "values": [0.5, 1, 1.5], "labels": false, "ticks": true, "tickSize": -18, "tickWidth": 2, "tickColor": "#777", "domain": false, "title": null}},
            "y2": {"field": "C2"}
          }
        },
        {
          "data": {"name": "inset_text"},
          "mark": {"type": "text", "align": "left", "baseline": "alphabetic", "font": "Liberation Sans", "fontSize": 46, "color": "#1a1a1a"},
          "encoding": {
            "x": {"field": "E", "type": "quantitative", "scale": {"domain": [6.402, 6.891], "range": [1277, 2075], "nice": false, "zero": false},
              "axis": {"orient": "top", "offset": -58, "zindex": 1, "values": [6.5, 6.6, 6.7, 6.8], "labels": false, "ticks": true, "tickSize": -18, "tickWidth": 2, "tickColor": "#777", "domain": false, "title": null}},
            "y": {"field": "C", "type": "quantitative", "scale": {"domain": [0, 2], "range": [650, 58], "nice": false, "zero": false},
              "axis": {"orient": "right", "offset": 239, "zindex": 1, "values": [0.5, 1, 1.5], "labels": false, "ticks": true, "tickSize": -18, "tickWidth": 2, "tickColor": "#777", "domain": false, "title": null}},
            "text": {"field": "t"}
          }
        },
        {
          "data": {"name": "inset_title"},
          "mark": {"type": "text", "align": "left", "baseline": "alphabetic", "font": "Liberation Sans", "fontSize": 54, "color": "#3c5ad8"},
          "encoding": {
            "x": {"field": "E", "type": "quantitative", "scale": {"domain": [6.402, 6.891], "range": [1277, 2075], "nice": false, "zero": false}, "axis": null},
            "y": {"field": "C", "type": "quantitative", "scale": {"domain": [0, 2], "range": [650, 58], "nice": false, "zero": false}, "axis": null},
            "text": {"field": "t"}
          }
        },
        {
          "data": {"name": "inset_lines"},
          "mark": {"type": "rule", "color": "#111", "strokeWidth": 2},
          "encoding": {
            "x": {"field": "E", "type": "quantitative", "scale": {"domain": [6.402, 6.891], "range": [1277, 2075], "nice": false, "zero": false}, "axis": null},
            "x2": {"field": "E2"},
            "y": {"field": "C", "type": "quantitative", "scale": {"domain": [0, 2], "range": [650, 58], "nice": false, "zero": false}, "axis": null},
            "y2": {"field": "C2"}
          }
        },
        {
          "data": {"name": "inset_art"},
          "mark": {"type": "rule", "color": "#333", "strokeWidth": 3},
          "encoding": {
            "x": {"field": "E", "type": "quantitative", "scale": {"domain": [6.402, 6.891], "range": [1277, 2075], "nice": false, "zero": false}, "axis": null},
            "y": {"field": "C", "type": "quantitative", "scale": {"domain": [0, 2], "range": [650, 58], "nice": false, "zero": false}, "axis": null},
            "y2": {"field": "C2"}
          }
        }
      ]
    }
  ]
}
